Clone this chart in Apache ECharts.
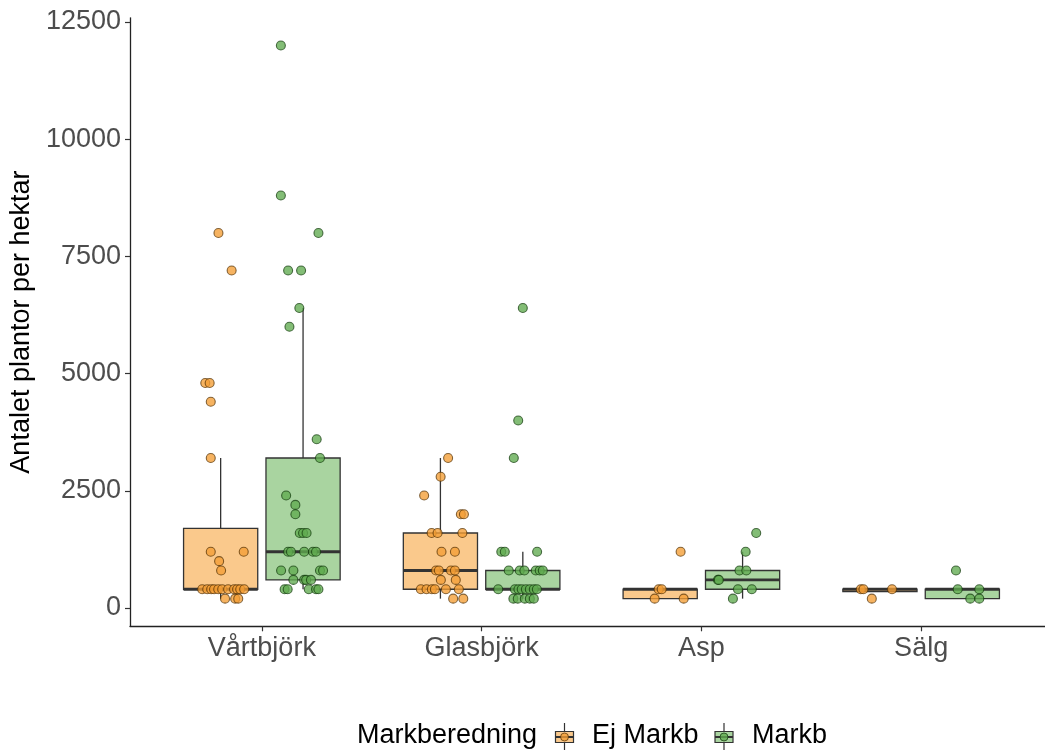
<!DOCTYPE html>
<html>
<head>
<meta charset="utf-8">
<script src="https://cdn.jsdelivr.net/npm/echarts@6/dist/echarts.min.js"></script>
<style>
  html, body { margin: 0; padding: 0; background: #ffffff; }
  #chart { width: 1045px; height: 753px; }
</style>
</head>
<body>
<div id="chart"></div>
<script>
// Species on the x axis and the two soil-preparation treatments
const categories = ['Vårtbjörk', 'Glasbjörk', 'Asp', 'Sälg'];
const treatments = ['Ej Markb', 'Markb'];
const yTicks = [0, 2500, 5000, 7500, 10000, 12500];

// Plants per hectare per plot, with the horizontal jitter of each dot (category units)
const vartbjorkEj = [8000, 7200, 4800, 4800, 4400, 3200, 1200, 1200, 1000, 800,
  400, 400, 400, 400, 400, 400, 400, 400, 400, 400, 400, 200, 200, 200];
const vartbjorkEjJitter = [-0.01, 0.05, -0.07, -0.05, -0.045, -0.045, -0.045, 0.105, -0.007, 0.002,
  -0.084, -0.061, -0.043, -0.03, -0.011, 0.007, 0.034, 0.061, 0.075, 0.089, 0.107, 0.02, 0.066, 0.08];

const vartbjorkMarkb = [12000, 8800, 8000, 7200, 7200, 6400, 6000, 3600, 3200, 2400, 2200, 2000,
  1600, 1600, 1600, 1200, 1200, 1200, 1200, 1200, 800, 800, 800, 800,
  600, 600, 600, 600, 400, 400, 400, 400, 400];
const vartbjorkMarkbJitter = [-0.101, -0.101, 0.07, -0.068, -0.009, -0.017, -0.062, 0.062, 0.077, -0.077, -0.035, -0.035,
  -0.015, 0, 0.016, -0.068, -0.055, 0.005, 0.045, 0.059, -0.1, -0.044, 0.077, 0.091,
  -0.044, 0.005, 0.014, 0.036, -0.084, -0.07, 0.026, 0.059, 0.07];

const glasbjorkEj = [3200, 2800, 2400, 2000, 2000, 1600, 1600, 1600, 1200, 1200,
  800, 800, 800, 800, 600, 600, 400, 400, 400, 400, 400, 400, 200, 200];
const glasbjorkEjJitter = [0.035, 0.001, -0.074, 0.093, 0.107, -0.04, -0.013, 0.1, 0.005, 0.066,
  -0.02, -0.007, 0.048, 0.066, 0.002, 0.07, -0.089, -0.063, -0.039, -0.025, 0.025, 0.084, 0.058, 0.104];

const glasbjorkMarkb = [6400, 4000, 3200, 1200, 1200, 1200, 800, 800, 800, 800, 800, 800,
  400, 400, 400, 400, 400, 400, 400, 400, 200, 200, 200, 200, 200];
const glasbjorkMarkbJitter = [0, -0.021, -0.041, -0.098, -0.082, 0.065, -0.064, -0.014, 0.007, 0.059, 0.077, 0.091,
  -0.112, -0.036, -0.02, -0.005, 0.014, 0.032, 0.05, 0.064, -0.043, -0.023, 0.009, 0.032, 0.05];

const aspEj = [1200, 400, 400, 200, 200];
const aspEjJitter = [0.093, -0.007, 0.007, -0.025, 0.107];

const aspMarkb = [1600, 1200, 800, 800, 600, 600, 400, 400, 200];
const aspMarkbJitter = [0.062, 0.014, -0.014, 0.017, -0.112, -0.108, -0.021, 0.042, -0.044];

const salgEj = [400, 400, 400, 200];
const salgEjJitter = [-0.087, -0.075, 0.055, -0.037];

const salgMarkb = [800, 400, 400, 200, 200];
const salgMarkbJitter = [-0.029, -0.021, 0.077, 0.036, 0.077];

const ejValues = [vartbjorkEj, glasbjorkEj, aspEj, salgEj];
const ejJitter = [vartbjorkEjJitter, glasbjorkEjJitter, aspEjJitter, salgEjJitter];
const markbValues = [vartbjorkMarkb, glasbjorkMarkb, aspMarkb, salgMarkb];
const markbJitter = [vartbjorkMarkbJitter, glasbjorkMarkbJitter, aspMarkbJitter, salgMarkbJitter];

// Styling
const FONT = '"Liberation Sans", Arial, sans-serif';
const boxFill = ['#fac98c', '#a9d4a0'];
const dotFill = ['rgba(244,158,52,0.78)', 'rgba(96,170,80,0.78)'];
const dotStroke = ['rgba(80,45,0,0.7)', 'rgba(15,55,10,0.7)'];
const dodge = 0.1875;     // half of the dodge width between the two treatments
const boxWidth = 0.3375;  // box width in category units

// Tukey box statistics (quantile type 7, whiskers at 1.5 IQR)
function quantile(sorted, p) {
  const h = (sorted.length - 1) * p;
  const lo = Math.floor(h), hi = Math.ceil(h);
  return sorted[lo] + (h - lo) * (sorted[hi] - sorted[lo]);
}
function boxStats(values) {
  const s = values.slice().sort((a, b) => a - b);
  const q1 = quantile(s, 0.25), med = quantile(s, 0.5), q3 = quantile(s, 0.75);
  const iqr = q3 - q1;
  const lowLim = q1 - 1.5 * iqr, upLim = q3 + 1.5 * iqr;
  const wLow = Math.min(...s.filter(v => v >= lowLim));
  const wHigh = Math.max(...s.filter(v => v <= upLim));
  return [wLow, q1, med, q3, wHigh];
}

function boxData(valueSets, side) {
  return valueSets.map((vals, i) => [i + 1 + side * dodge].concat(boxStats(vals)));
}
function dotData(valueSets, jitterSets, side) {
  const out = [];
  valueSets.forEach((vals, i) => {
    vals.forEach((v, k) => out.push([i + 1 + side * dodge + jitterSets[i][k], v]));
  });
  return out;
}

function makeBoxRenderer(fill) {
  return function (params, api) {
    const x = api.value(0);
    const yMin = api.coord([x, api.value(1)])[1];
    const yQ1 = api.coord([x, api.value(2)])[1];
    const yMed = api.coord([x, api.value(3)])[1];
    const yQ3 = api.coord([x, api.value(4)])[1];
    const yMax = api.coord([x, api.value(5)])[1];
    const cx = api.coord([x, 0])[0];
    const w = api.size([boxWidth, 0])[0];
    const stroke = '#333333';
    return {
      type: 'group',
      children: [
        { type: 'line', shape: { x1: cx, y1: yMax, x2: cx, y2: yQ3 }, style: { stroke, lineWidth: 1.3 } },
        { type: 'line', shape: { x1: cx, y1: yQ1, x2: cx, y2: yMin }, style: { stroke, lineWidth: 1.3 } },
        { type: 'rect', shape: { x: cx - w / 2, y: yQ3, width: w, height: yQ1 - yQ3 },
          style: { fill, stroke, lineWidth: 1.3 } },
        { type: 'line', shape: { x1: cx - w / 2, y1: yMed, x2: cx + w / 2, y2: yMed },
          style: { stroke, lineWidth: 2.8 } }
      ]
    };
  };
}

function dotSeries(data, idx) {
  return {
    type: 'scatter',
    data,
    symbol: 'circle',
    symbolSize: 9,
    silent: true,
    z: 5,
    itemStyle: { color: dotFill[idx], borderColor: dotStroke[idx], borderWidth: 1.1, opacity: 1 }
  };
}

// Legend: title, keys drawn as small boxplot glyphs, and labels
function legendKey(cx, idx) {
  return [
    { type: 'line', shape: { x1: cx, y1: 723, x2: cx, y2: 750 }, style: { stroke: '#333', lineWidth: 1.2 } },
    { type: 'rect', shape: { x: cx - 9, y: 731.5, width: 18, height: 11 }, style: { fill: boxFill[idx], stroke: '#333', lineWidth: 1.2 } },
    { type: 'line', shape: { x1: cx - 9, y1: 737, x2: cx + 9, y2: 737 }, style: { stroke: '#333', lineWidth: 2 } },
    { type: 'circle', shape: { cx: cx, cy: 737, r: 4 }, style: { fill: dotFill[idx], stroke: dotStroke[idx], lineWidth: 1 } }
  ];
}
function legendText(x, text) {
  return { type: 'text', x, y: 736, style: { text, font: '27px ' + FONT, fill: '#000', textVerticalAlign: 'middle', verticalAlign: 'middle' } };
}

const chart = echarts.init(document.getElementById('chart'), null, { renderer: 'canvas' });
chart.setOption({
  animation: false,
  backgroundColor: '#ffffff',
  grid: { left: 130, right: -8, top: 17.8, bottom: 126.7, containLabel: false, outerBoundsMode: 'none' },
  xAxis: {
    type: 'value',
    min: 0.4,
    max: 4.6,
    splitLine: { show: false },
    axisLine: { show: true, onZero: false, lineStyle: { color: '#222', width: 1.3 } },
    axisTick: { show: true, length: 5, customValues: [1, 2, 3, 4], lineStyle: { color: '#333', width: 1.2 } },
    axisLabel: {
      customValues: [1, 2, 3, 4],
      formatter: v => categories[Math.round(v) - 1] || '',
      color: '#4d4d4d', fontSize: 27, fontFamily: FONT, margin: 9
    }
  },
  yAxis: {
    type: 'value',
    min: -390,
    max: 12590,
    name: 'Antalet plantor per hektar',
    nameLocation: 'middle',
    nameRotate: 90,
    nameGap: 86,
    nameTextStyle: { color: '#000', fontSize: 27, fontFamily: FONT },
    splitLine: { show: false },
    axisLine: { show: true, onZero: false, lineStyle: { color: '#222', width: 1.3 } },
    axisTick: { show: true, length: 5, customValues: yTicks, lineStyle: { color: '#333', width: 1.2 } },
    axisLabel: {
      customValues: yTicks,
      formatter: v => String(Math.round(v)),
      color: '#4d4d4d', fontSize: 27, fontFamily: FONT, margin: 9
    }
  },
  series: [
    { type: 'custom', name: treatments[0], renderItem: makeBoxRenderer(boxFill[0]),
      data: boxData(ejValues, -1), encode: { x: 0, y: [1, 2, 3, 4, 5] }, silent: true, z: 2 },
    { type: 'custom', name: treatments[1], renderItem: makeBoxRenderer(boxFill[1]),
      data: boxData(markbValues, 1), encode: { x: 0, y: [1, 2, 3, 4, 5] }, silent: true, z: 2 },
    dotSeries(dotData(ejValues, ejJitter, -1), 0),
    dotSeries(dotData(markbValues, markbJitter, 1), 1)
  ],
  graphic: [
    legendText(357, 'Markberedning'),
    ...legendKey(564.5, 0),
    legendText(592, treatments[0]),
    ...legendKey(724, 1),
    legendText(752, treatments[1])
  ]
});
</script>
</body>
</html>
